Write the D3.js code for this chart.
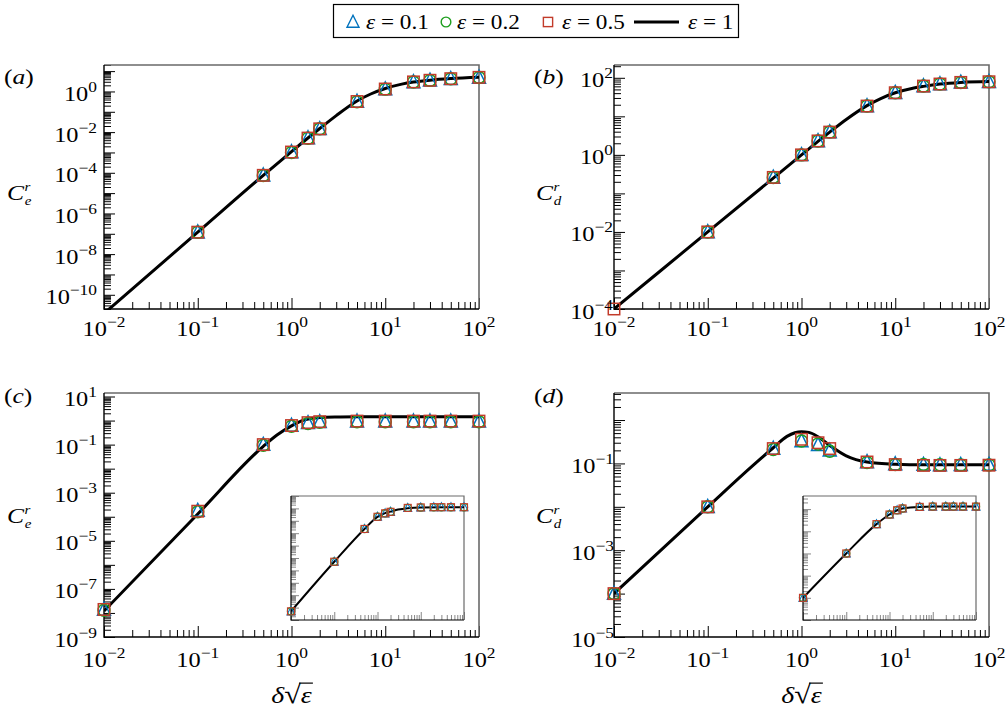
<!DOCTYPE html>
<html>
<head>
<meta charset="utf-8">
<script src="https://cdn.jsdelivr.net/npm/d3@7"></script>
<style>
  body { margin: 0; background: #fff; }
  svg { display: block; }
  svg text { font-family: "Liberation Serif", "Times New Roman", Times, serif; }
</style>
</head>
<body>
<div id="chart"></div>
<script>
(function(d3) {
  'use strict';

  // shared abscissa  δ√ε
  var xPts = [0.01, 0.1, 0.5, 1, 1.5, 2, 5, 10, 20, 30, 50, 100];
  var xTickExps = [-2, -1, 0, 1, 2];
  var legendLabels = ['0.1', '0.2', '0.5', '1'];

  // (a) C_e^r
  var aEps01 = [null, 1.2e-7, 7.5e-5, 1.05e-3, 5.1e-3, 1.45e-2, 0.32, 1.3, 2.9, 3.5, 4.2, 4.9];
  var aEps02 = [null, 1.2e-7, 7.4e-5, 1.0e-3, 5.0e-3, 1.45e-2, 0.31, 1.3, 2.9, 3.5, 4.2, 4.9];
  var aEps05 = [null, 1.2e-7, 7.5e-5, 1.05e-3, 5.1e-3, 1.45e-2, 0.32, 1.32, 2.95, 3.55, 4.25, 4.95];
  var aCurveX = [0.01, 0.1, 0.5, 1, 2, 3, 5, 7, 10, 15, 20, 30, 50, 100];
  var aCurveY = [1.2e-11, 1.2e-7, 7.5e-5, 1.1e-3, 1.5e-2, 0.065, 0.34, 0.75, 1.4, 2.3, 2.9, 3.6, 4.3, 5.0];
  var aYExps = [0, -2, -4, -6, -8, -10];

  // (b) C_d^r
  var bEps01 = [null, 1e-2, 0.26, 1.0, 2.3, 3.9, 18.5, 41, 61, 69, 76, 79];
  var bEps02 = [null, 1e-2, 0.26, 1.0, 2.3, 3.9, 18.5, 41, 61, 69, 76, 79];
  var bEps05 = [1e-4, 1e-2, 0.26, 1.0, 2.3, 3.9, 18.5, 41, 61, 69, 76, 79];
  var bCurveX = [0.01, 0.1, 0.5, 1, 1.5, 2, 3, 5, 7, 10, 15, 20, 30, 50, 100];
  var bCurveY = [1e-4, 1e-2, 0.25, 1, 2.25, 3.9, 8.3, 19, 29, 41, 53, 60, 69, 76, 80];
  var bYExps = [2, 0, -2, -4];

  // (c) C_e^r
  var cEps01 = [1.4e-8, 1.8e-4, 0.1, 0.62, 0.8, 0.88, 0.93, 0.93, 0.93, 0.93, 0.93, 0.93];
  var cEps02 = [1.3e-8, 1.6e-4, 0.095, 0.58, 0.76, 0.85, 0.9, 0.9, 0.9, 0.9, 0.9, 0.9];
  var cEps05 = [1.4e-8, 1.7e-4, 0.1, 0.62, 0.82, 0.9, 0.95, 0.95, 0.95, 0.95, 0.95, 0.95];
  var cCurveX = [0.01, 0.1, 0.5, 0.7, 1, 1.3, 1.6, 2, 3, 5, 10, 100];
  var cCurveY = [1.2e-8, 1.3e-4, 0.085, 0.25, 0.6, 1.0, 1.22, 1.33, 1.41, 1.44, 1.45, 1.45];
  var cYExps = [1, -1, -3, -5, -7, -9];
  // (c) inset
  var cInsEps = [5e-9, 5e-5, 0.022, 0.21, 0.4, 0.53, 1.1, 1.2, 1.25, 1.25, 1.25, 1.25];
  var cInsCurveX = [0.01, 0.1, 0.5, 1, 1.5, 2, 3, 5, 10, 100];
  var cInsCurveY = [5e-9, 5e-5, 0.022, 0.21, 0.42, 0.55, 0.8, 1.05, 1.2, 1.25];

  // (d) C_d^r
  var dEps01 = [1e-4, 1e-2, 0.22, 0.33, 0.27, 0.2, 0.108, 0.097, 0.094, 0.092, 0.093, 0.094];
  var dEps02 = [1e-4, 1e-2, 0.21, 0.33, 0.28, 0.19, 0.105, 0.094, 0.095, 0.093, 0.092, 0.092];
  var dEps05 = [1e-4, 1e-2, 0.22, 0.36, 0.3, 0.22, 0.108, 0.094, 0.09, 0.09, 0.09, 0.091];
  var dCurveX = [0.01, 0.1, 0.3, 0.5, 0.7, 0.85, 1, 1.2, 1.5, 2, 3, 5, 10, 20, 100];
  var dCurveY = [1e-4, 1e-2, 0.088, 0.23, 0.42, 0.51, 0.54, 0.52, 0.41, 0.26, 0.15, 0.108, 0.096, 0.093, 0.093];
  var dYExps = [-1, -3, -5];
  // (d) inset
  var dInsEps = [1e-4, 1e-2, 0.21, 0.57, 0.89, 1.07, 1.26, 1.3, 1.3, 1.3, 1.3, 1.3];
  var dInsCurveX = [0.01, 0.1, 0.5, 1, 1.5, 2, 3, 5, 10, 100];
  var dInsCurveY = [1e-4, 1e-2, 0.21, 0.57, 0.89, 1.07, 1.18, 1.26, 1.3, 1.3];

  var colors = { tri: '#0072bd', circ: '#1e9e1e', sq: '#c23b2a' };
  var FONT = '"Liberation Serif", "Times New Roman", Times, serif';
  var SX = 1.16;   // the source typeface runs wider than Liberation Serif
  var W = 1006, H = 713;

  var svg = d3.select('#chart').append('svg')
    .attr('width', W).attr('height', H)
    .attr('font-family', FONT);
  var defs = svg.append('defs');

  var zip = function(xs, ys) { return xs.map(function(v, i) { return [v, ys[i]]; }); };
  var supText = function(e) { return e < 0 ? '\u2212' + (-e) : String(e); };
  var place = function(x, y) { return 'translate(' + x + ',' + y + ') scale(' + SX + ',1)'; };

  function logTicks(lo, hi) {
    var major = [], minor = [];
    for (var k = Math.floor(Math.log10(lo)); k <= Math.ceil(Math.log10(hi)); k++) {
      for (var m = 1; m <= 9; m++) {
        var v = m * Math.pow(10, k);
        if (v < lo * 0.999 || v > hi * 1.001) continue;
        (m === 1 ? major : minor).push(v);
      }
    }
    return { major: major, minor: minor };
  }

  function drawMarker(g, kind, cx, cy, s, sw) {
    if (kind === 'tri') {
      g.append('path')
        .attr('d', 'M' + cx + ',' + (cy - s * 0.56) + 'L' + (cx + s / 2) + ',' + (cy + s * 0.44) +
          'L' + (cx - s / 2) + ',' + (cy + s * 0.44) + 'Z')
        .attr('fill', 'none').attr('stroke', colors.tri).attr('stroke-width', sw);
    } else if (kind === 'circ') {
      g.append('circle').attr('cx', cx).attr('cy', cy).attr('r', s * 0.46)
        .attr('fill', 'none').attr('stroke', colors.circ).attr('stroke-width', sw);
    } else {
      var a = s * 0.88;
      g.append('rect').attr('x', cx - a / 2).attr('y', cy - a / 2).attr('width', a).attr('height', a)
        .attr('fill', 'none').attr('stroke', colors.sq).attr('stroke-width', sw);
    }
  }

  // one set of axes: frame, inward ticks, curve and markers
  function drawAxes(p, opt) {
    var g = svg.append('g');
    var x = d3.scaleLog().domain([0.01, 100]).range([p.left, p.right]);
    var y = d3.scaleLog().domain(p.yDomain).range([p.bottom, p.top]);

    if (opt.inset) {
      g.append('rect').attr('x', p.left).attr('y', p.top)
        .attr('width', p.right - p.left).attr('height', p.bottom - p.top).attr('fill', '#fff');
    }

    var xt = logTicks(0.01, 100), yt = logTicks(p.yDomain[0], p.yDomain[1]);
    var tickCol = opt.inset ? '#7a7a7a' : '#000';

    function tickAxis(axis, vals, len, tr) {
      g.append('g').attr('transform', tr)
        .call(axis.tickValues(vals).tickSize(-len).tickFormat(function() { return ''; }))
        .call(function(s) {
          s.select('.domain').remove();
          s.selectAll('line').attr('stroke', tickCol).attr('stroke-width', opt.inset ? 0.9 : 1);
        });
    }
    tickAxis(d3.axisBottom(x), xt.minor, opt.minorLen, 'translate(0,' + p.bottom + ')');
    tickAxis(d3.axisBottom(x), xt.major, opt.majorLen, 'translate(0,' + p.bottom + ')');
    tickAxis(d3.axisLeft(y), yt.minor, opt.minorLen, 'translate(' + p.left + ',0)');
    tickAxis(d3.axisLeft(y), yt.major, opt.majorLen, 'translate(' + p.left + ',0)');

    // frame: black left/bottom, grey top/right
    g.append('path')
      .attr('d', 'M' + p.left + ',' + p.top + 'H' + p.right + 'V' + p.bottom)
      .attr('fill', 'none').attr('stroke', '#6a6a6a').attr('stroke-width', opt.inset ? 1.2 : 1.6);
    g.append('path')
      .attr('d', 'M' + p.left + ',' + p.top + 'V' + p.bottom + 'H' + p.right)
      .attr('fill', 'none').attr('stroke', '#000').attr('stroke-width', opt.inset ? 1.2 : 1.4);

    // curve ε = 1
    var cid = 'clip-' + p.id;
    defs.append('clipPath').attr('id', cid).append('rect')
      .attr('x', p.left).attr('y', p.top)
      .attr('width', p.right - p.left).attr('height', p.bottom - p.top);
    var line = d3.line()
      .x(function(d) { return x(d[0]); })
      .y(function(d) { return y(d[1]); })
      .curve(d3.curveMonotoneX);
    g.append('path')
      .attr('clip-path', 'url(#' + cid + ')')
      .attr('d', line(zip(p.curveX, p.curveY)))
      .attr('fill', 'none').attr('stroke', '#000')
      .attr('stroke-width', opt.inset ? 2 : 3).attr('stroke-linejoin', 'round');

    // markers ε = 0.1, 0.2, 0.5
    var kinds = ['tri', 'circ', 'sq'];
    p.series.forEach(function(vals, si) {
      var mg = g.append('g');
      vals.forEach(function(v, i) {
        if (v == null) return;
        drawMarker(mg, kinds[si], x(xPts[i]), y(v), opt.markerSize, opt.inset ? 1.1 : 1.5);
      });
    });

    return { x: x, y: y, g: g };
  }

  function powText(g, x, y, e, anchor) {
    var t = g.append('text')
      .attr('transform', place(x, y))
      .attr('text-anchor', anchor)
      .attr('font-size', 21);
    t.append('tspan').text('10');
    t.append('tspan').attr('dy', -9).attr('font-size', 15).text(supText(e));
    return t;
  }

  function drawPanel(p) {
    var ax = drawAxes(p, { majorLen: 11, minorLen: 7, markerSize: 13, inset: false });
    var g = ax.g;

    xTickExps.forEach(function(e) {
      powText(g, ax.x(Math.pow(10, e)), p.xLabY, e, 'middle');
    });
    p.yExps.forEach(function(e) {
      powText(g, p.yLabX, ax.y(Math.pow(10, e)) + 9.5, e, 'end');
    });

    // panel letter
    var lt = g.append('text').attr('transform', place(p.letterX, p.letterY)).attr('font-size', 22);
    lt.append('tspan').text('(');
    lt.append('tspan').attr('font-style', 'italic').text(p.id);
    lt.append('tspan').text(')');

    // y axis label C_sub^r, one text element
    var yl = g.append('text').attr('transform', place(p.cX, p.cY))
      .attr('font-size', 22).attr('font-style', 'italic');
    yl.append('tspan').text('C');
    yl.append('tspan').attr('dx', 0.5).attr('dy', -9).attr('font-size', 13).text('r');
    yl.append('tspan').attr('dx', -5).attr('dy', 14).attr('font-size', 13).text(p.sub);

    if (p.xTitle) drawXTitle(g, (p.left + p.right) / 2, 703);

    if (p.inset) {
      drawAxes(p.inset, { majorLen: 8, minorLen: 5, markerSize: 8, inset: true });
    }
  }

  // δ√ε
  function drawXTitle(g, cx, by) {
    var tg = g.append('g').attr('transform', place(cx, by));
    var t = tg.append('text').attr('font-size', 24).attr('text-anchor', 'middle');
    t.append('tspan').attr('font-style', 'italic').text('\u03b4');
    t.append('tspan').attr('font-size', 26).text('\u221a');
    t.append('tspan').attr('font-style', 'italic').text('\u03b5');
    var ext = t.node().getExtentOfChar(2);
    var rad = t.node().getExtentOfChar(1);
    tg.append('line')
      .attr('x1', rad.x + rad.width - 1.5).attr('x2', ext.x + ext.width + 1)
      .attr('y1', rad.y + 3.2).attr('y2', rad.y + 3.2)
      .attr('stroke', '#000').attr('stroke-width', 1.2);
  }

  var panels = [
    { id: 'a', sub: 'e', left: 104, right: 479, top: 65, bottom: 309, yDomain: [2e-11, 20],
      series: [aEps01, aEps02, aEps05], curveX: aCurveX, curveY: aCurveY, yExps: aYExps,
      xLabY: 336, yLabX: 97, letterX: 4, letterY: 84, cX: 7, cY: 200 },
    { id: 'b', sub: 'd', left: 614, right: 989, top: 65, bottom: 309, yDomain: [1e-4, 215],
      series: [bEps01, bEps02, bEps05], curveX: bCurveX, curveY: bCurveY, yExps: bYExps,
      xLabY: 336, yLabX: 613, letterX: 534, letterY: 84, cX: 536, cY: 200 },
    { id: 'c', sub: 'e', left: 104, right: 479, top: 393, bottom: 637, yDomain: [1e-9, 14],
      series: [cEps01, cEps02, cEps05], curveX: cCurveX, curveY: cCurveY, yExps: cYExps,
      xLabY: 667, yLabX: 97, letterX: 4, letterY: 403, cX: 7, cY: 523, xTitle: true,
      inset: { id: 'ci', left: 291, right: 464, top: 496, bottom: 620, yDomain: [1e-9, 10],
        series: [cInsEps, cInsEps, cInsEps], curveX: cInsCurveX, curveY: cInsCurveY } },
    { id: 'd', sub: 'd', left: 614, right: 989, top: 393, bottom: 637, yDomain: [1e-5, 4.2],
      series: [dEps01, dEps02, dEps05], curveX: dCurveX, curveY: dCurveY, yExps: dYExps,
      xLabY: 667, yLabX: 614, letterX: 534, letterY: 403, cX: 536, cY: 523, xTitle: true,
      inset: { id: 'di', left: 803, right: 976, top: 496, bottom: 620, yDomain: [1e-5, 3.9],
        series: [dInsEps, dInsEps, dInsEps], curveX: dInsCurveX, curveY: dInsCurveY } }
  ];

  panels.forEach(drawPanel);

  // legend
  var lg = svg.append('g');
  lg.append('rect').attr('x', 333.5).attr('y', 4.5).attr('width', 405).attr('height', 33)
    .attr('fill', '#fff').attr('stroke', '#000').attr('stroke-width', 1.2);
  var legendItems = [
    { kind: 'tri', mx: 353, tx: 366 },
    { kind: 'circ', mx: 446, tx: 457 },
    { kind: 'sq', mx: 548, tx: 562 },
    { kind: 'line', mx: 656, tx: 688 }
  ];
  legendItems.forEach(function(it, i) {
    if (it.kind === 'line') {
      lg.append('line').attr('x1', 634).attr('x2', 679).attr('y1', 22).attr('y2', 22)
        .attr('stroke', '#000').attr('stroke-width', 3);
    } else {
      drawMarker(lg, it.kind, it.mx, 22, it.kind === 'tri' ? 12 : 10.5, 1.4);
    }
    var t = lg.append('text').attr('transform', place(it.tx, 28.5)).attr('font-size', 20);
    t.append('tspan').attr('font-style', 'italic').text('\u03b5');
    t.append('tspan').text(' = ' + legendLabels[i]);
  });
}(d3));
</script>
</body>
</html>
